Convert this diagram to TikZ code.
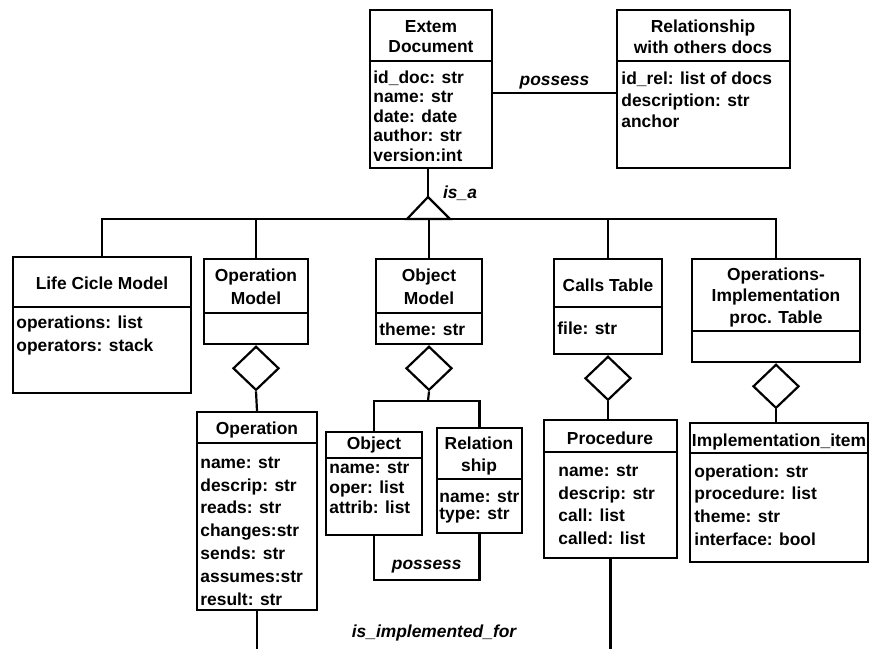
\documentclass[tikz,border=0pt]{standalone}
\usepackage{fontspec}
\setmainfont{Liberation Sans}
\usetikzlibrary{shapes.geometric}
\usetikzlibrary{positioning}
\usetikzlibrary{fit}
\tikzset{
    cls/.style = {rectangle, draw=black, line width=1.2pt, inner sep=0pt},
    ttl/.style = {align=center, inner sep=0pt, font=\bfseries\fontsize{8.7}{#1}\selectfont},
    att/.style = {align=left, anchor=west, inner sep=0pt, font=\bfseries\fontsize{8.7}{#1}\selectfont},
    lbl/.style = {inner sep=1pt, font=\bfseries\itshape\fontsize{8.7}{10}\selectfont},
    link/.style = {line width=1.1pt},
    agg/.style = {diamond, draw=black, line width=1.1pt, minimum width=23pt, minimum height=22pt, inner sep=0pt, fill=white},
}

\begin{document}
\begin{tikzpicture}[x=0.5pt,y=-0.5pt]
\useasboundingbox (0,0) rectangle (870,649);
%
% top classes
\node[cls, fit={(370,10) (492,168)}] (ext) {};
\node[ttl=10] at (431,37) (extT) {Extem\\Document};
\node[att=9.75] at (373,116) (extA) {id\_doc: str\\name: str\\date: date\\author: str\\version:int};
\node[cls, fit={(617,10) (790,168)}] (rel) {};
\node[ttl=10.5] at (703,37) (relT) {Relationship\\with others docs};
\node[att=10.75] at (621,100) (relA) {id\_rel: list of docs\\description: str\\anchor};
%
% middle classes
\node[cls, fit={(13,257) (191,393)}] (lcm) {};
\node[ttl=10] at (102,283) (lcmT) {Life Cicle Model};
\node[att=11.5] at (16,335) (lcmA) {operations: list\\operators: stack};
\node[cls, fit={(204,259) (308,344)}] (opm) {};
\node[ttl=11.5] at (256,287) (opmT) {Operation\\Model};
\node[cls, fit={(376,259) (482,344)}] (obm) {};
\node[ttl=11.5] at (429,287) (obmT) {Object\\Model};
\node[att=10] at (379,329) (obmA) {theme: str};
\node[cls, fit={(554,259) (662,354)}] (clt) {};
\node[ttl=10] at (608,285) (cltT) {Calls Table};
\node[att=10] at (557,328) (cltA) {file: str};
\node[cls, fit={(692,259) (860,362)}] (oit) {};
\node[ttl=10.75] at (776,297) (oitT) {Operations-\\Implementation\\proc. Table};
%
% bottom classes
\node[cls, fit={(197,412) (317,610)}] (op) {};
\node[ttl=10] at (257,430) (opT) {Operation};
\node[att=11.4] at (200,531) (opA) {name: str\\descrip: str\\reads: str\\changes:str\\sends: str\\assumes:str\\result: str};
\node[cls, fit={(326,432) (422,535)}] (obj) {};
\node[ttl=10] at (374,445) (objT) {Object};
\node[att=10] at (329,488) (objA) {name: str\\oper: list\\attrib: list};
\node[cls, fit={(437,428) (522,533)}] (rsh) {};
\node[ttl=11] at (479,456) (rshT) {Relation\\ship};
\node[att=8.5] at (439,507) (rshA) {name: str\\type: str};
\node[cls, fit={(544,420) (677,558)}] (proc) {};
\node[ttl=10] at (610,438) (procT) {Procedure};
\node[att=11.3] at (558,505) (procA) {name: str\\descrip: str\\call: list\\called: list};
\node[cls, fit={(690,423) (868,562)}] (impl) {};
\node[ttl=10] at (779,442) (implT) {Implementation\_item};
\node[att=11.3] at (694,505) (implA) {operation: str\\procedure: list\\theme: str\\interface: bool};
%
% separators
\draw[link] (ext.west |- 0,61) -- (ext.east |- 0,61);
\draw[link] (rel.west |- 0,61) -- (rel.east |- 0,61);
\draw[link] (lcm.west |- 0,307) -- (lcm.east |- 0,307);
\draw[link] (opm.west |- 0,313) -- (opm.east |- 0,313);
\draw[link] (obm.west |- 0,313) -- (obm.east |- 0,313);
\draw[link] (clt.west |- 0,307) -- (clt.east |- 0,307);
\draw[link] (oit.west |- 0,331) -- (oit.east |- 0,331);
\draw[link] (op.west |- 0,443) -- (op.east |- 0,443);
\draw[link] (obj.west |- 0,458) -- (obj.east |- 0,458);
\draw[link] (rsh.west |- 0,479) -- (rsh.east |- 0,479);
\draw[link] (proc.west |- 0,452) -- (proc.east |- 0,452);
\draw[link] (impl.west |- 0,453) -- (impl.east |- 0,453);
%
% possess + is_a
\coordinate (isa) at (428,197);
\coordinate (isab) at (428,219);
\coordinate (bot) at (0,649);
\draw[link] (ext.east |- 0,93) -- node[lbl, above=0.5pt] {possess} (rel.west |- 0,93);
\draw[link] (ext.south -| isa) -- node[lbl, right=6pt, pos=0.85] {is\_a} (isa);
\draw[link] (isa) -- ++(-21,22) -- ++(43,0) -- cycle;
\draw[link] (lcm.north) -- (lcm.north |- isab) -- (oit.north |- isab) -- (oit.north);
\draw[link] (opm.north) -- (opm.north |- isab);
\draw[link] (obm.north) -- (obm.north |- isab);
\draw[link] (clt.north) -- (clt.north |- isab);
%
% aggregations
\node[agg, below=0pt of opm] (d1) {};
\node[agg, below=0pt of obm] (d2) {};
\node[agg, below=0pt of clt] (d3) {};
\node[agg, below=0pt of oit] (d4) {};
\coordinate (objbus) at (428,401);
\draw[link] (d1.south) -- (op.north);
\draw[link] (d2.south) -- (objbus);
\draw[link] (obj.north) -- (obj.north |- objbus) -- (rsh.north |- objbus) -- (rsh.north);
\draw[link] (d3.south) -- (d3.south |- proc.north);
\draw[link] (d4.south) -- (d4.south |- impl.north);
%
% possess (bottom) + is_implemented_for
\coordinate (pbus) at (0,580);
\draw[link] (obj.south) -- (obj.south |- pbus) -- node[lbl, above=2pt] {possess} (rsh.south |- pbus) -- (rsh.south);
\draw[link] (op.south) -- (op.south |- bot);
\draw[link] (proc.south) -- (proc.south |- bot);
\node[lbl] at (434,633) (impfor) {is\_implemented\_for};
\end{tikzpicture}
\end{document}
